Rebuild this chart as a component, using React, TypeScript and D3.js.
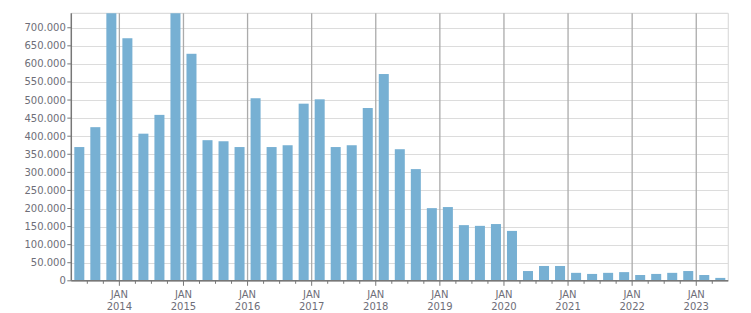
import React from "react";
import * as d3 from "d3";

const quarters: string[] = [
  "2013Q2","2013Q3","2013Q4",
  "2014Q1","2014Q2","2014Q3","2014Q4",
  "2015Q1","2015Q2","2015Q3","2015Q4",
  "2016Q1","2016Q2","2016Q3","2016Q4",
  "2017Q1","2017Q2","2017Q3","2017Q4",
  "2018Q1","2018Q2","2018Q3","2018Q4",
  "2019Q1","2019Q2","2019Q3","2019Q4",
  "2020Q1","2020Q2","2020Q3","2020Q4",
  "2021Q1","2021Q2","2021Q3","2021Q4",
  "2022Q1","2022Q2","2022Q3","2022Q4",
  "2023Q1","2023Q2",
];

const values: number[] = [
  370000, 425000, 750000,
  671000, 407000, 459000, 750000,
  628000, 389000, 386000, 370000,
  505000, 370000, 375000, 490000,
  502000, 370000, 375000, 478000,
  572000, 364000, 309000, 201000,
  204000, 154000, 152000, 157000,
  138000, 27000, 41000, 41000,
  22000, 19000, 22000, 24000,
  16000, 19000, 22000, 27000,
  16000, 8000,
];

const yTicks: number[] = [0, 50000, 100000, 150000, 200000, 250000, 300000, 350000, 400000, 450000, 500000, 550000, 600000, 650000, 700000];
const yearLabels: string[] = ["2014","2015","2016","2017","2018","2019","2020","2021","2022","2023"];

const W = 751, H = 313;
const left = 71.3, right = 728.3, top = 13.3, bottom = 280.8;

const fmt = d3.formatLocale({ decimal: ",", thousands: ".", grouping: [3], currency: ["", ""] }).format(",d");

export default function App() {
  const x = d3.scaleBand<string>().domain(quarters).range([left, right]).paddingInner(0.375).paddingOuter(0.1875);
  const y = d3.scaleLinear().domain([0, 740000]).range([bottom, top]);
  const step = x.step();
  const gap = (step - x.bandwidth()) / 2;
  const boundary = (q: string) => (x(q) as number) - gap;
  const font = "'DejaVu Sans', Verdana, sans-serif";
  const txt = "#6e6e78";

  return (
    <svg width={W} height={H} style={{ position: "absolute", left: 0, top: 0, background: "#fff" }}>
      <defs>
        <clipPath id="plot">
          <rect x={left} y={top} width={right - left} height={bottom - top} />
        </clipPath>
      </defs>
      {/* horizontal grid */}
      {yTicks.map((t) => (
        <line key={"g" + t} x1={left} x2={right} y1={Math.round(y(t)) + 0.5} y2={Math.round(y(t)) + 0.5} stroke="#dcdcdc" strokeWidth={1.2} />
      ))}
      <line x1={left} x2={right} y1={top} y2={top} stroke="#dcdcdc" strokeWidth={1.2} />
      <line x1={right} x2={right} y1={top} y2={bottom} stroke="#dcdcdc" strokeWidth={1.2} />
      {/* vertical year lines */}
      {yearLabels.map((yr) => {
        const bx = boundary(yr + "Q1");
        return <line key={"v" + yr} x1={bx} x2={bx} y1={top} y2={bottom} stroke="#ababab" strokeWidth={1.3} />;
      })}
      {/* bars */}
      <g clipPath="url(#plot)">
        {values.map((v, i) => (
          <rect key={quarters[i]} x={x(quarters[i])} y={y(v)} width={x.bandwidth()} height={bottom - y(v)} fill="#77b0d3" />
        ))}
      </g>
      {/* axes */}
      <line x1={left} x2={left} y1={top} y2={bottom} stroke="#777" strokeWidth={1.5} />
      <line x1={left} x2={right} y1={bottom} y2={bottom} stroke="#777" strokeWidth={1.5} />
      {yTicks.map((t) => (
        <g key={"t" + t}>
          <line x1={left - 4} x2={left} y1={y(t)} y2={y(t)} stroke="#777" strokeWidth={1} />
          <text x={left - 5.5} y={y(t)} dy="0.35em" textAnchor="end" fontFamily={font} fontSize={10} fill={txt}>{fmt(t)}</text>
        </g>
      ))}
      {quarters.slice(1).map((q) => {
        const bx = boundary(q);
        const isYear = q.endsWith("Q1");
        return <line key={"xt" + q} x1={bx} x2={bx} y1={bottom} y2={bottom + (isYear ? 5 : 3)} stroke="#777" strokeWidth={1} />;
      })}
      {yearLabels.map((yr) => {
        const bx = boundary(yr + "Q1");
        return (
          <g key={"xl" + yr}>
            <text x={bx} y={294.3} dy="0.35em" textAnchor="middle" fontFamily={font} fontSize={10} fill={txt}>JAN</text>
            <text x={bx} y={306.7} dy="0.35em" textAnchor="middle" fontFamily={font} fontSize={10} fill={txt}>{yr}</text>
          </g>
        );
      })}
    </svg>
  );
}
